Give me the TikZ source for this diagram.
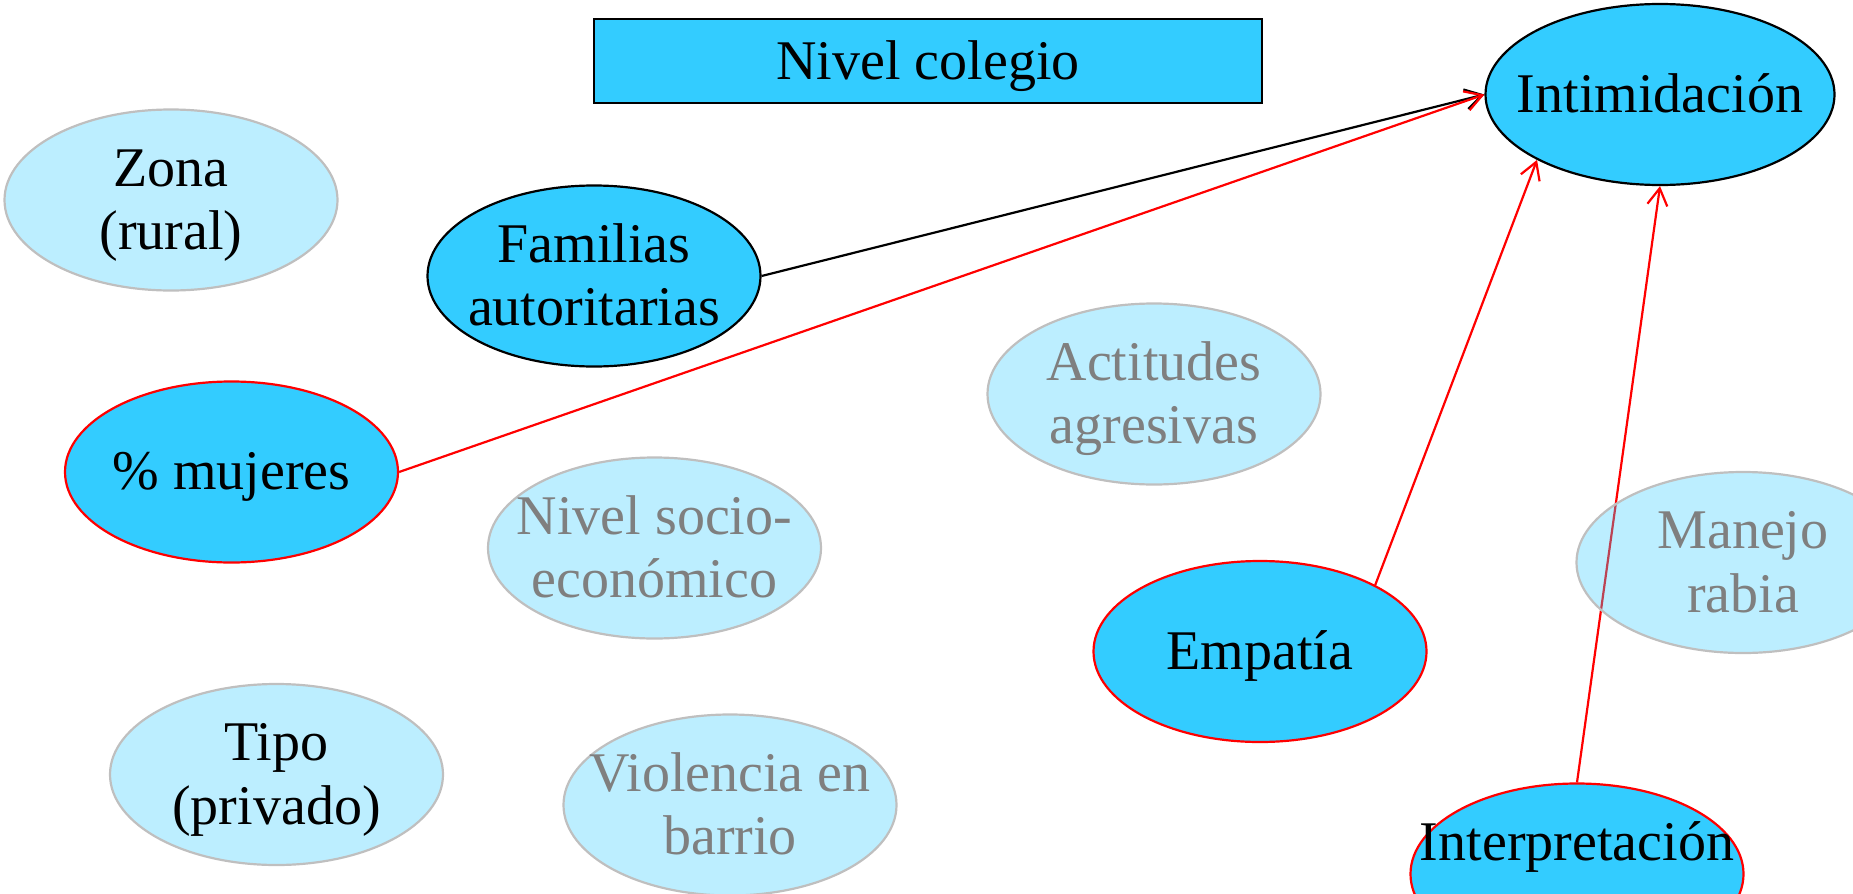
\documentclass[tikz,border=0pt]{standalone}
\usepackage{fontspec}
\setmainfont{Liberation Serif}
\usetikzlibrary{shapes.geometric,arrows.meta,backgrounds}
\definecolor{skyb}{HTML}{33CCFF}
\definecolor{grayline}{HTML}{BFBFBF}
\definecolor{graytext}{HTML}{7F7F7F}
\newcommand\lblfont{\fontsize{28}{31.75}\selectfont}
\newcommand\twol[1]{\begin{tabular}[t]{@{}c@{}}#1\end{tabular}}
\tikzset{
  ellbase/.style={ellipse, minimum width=166.5pt, minimum height=90.5pt, inner sep=0pt, line width=1.1pt},
  strongbk/.style={ellbase, fill=skyb, draw=black},
  strongrd/.style={ellbase, fill=skyb, draw=red},
  lightell/.style={ellbase, fill=skyb, fill opacity=0.33, draw=grayline},
  lbl/.style={anchor=base, inner sep=0pt, font=\lblfont, text=black},
  graylbl/.style={lbl, text=graytext},
  conn/.style={line width=1.1pt, -{Straight Barb[length=8.5pt,width=10pt]}},
}
\begin{document}
\begin{tikzpicture}[x=0.5pt,y=-0.5pt]
\useasboundingbox (0,0) rectangle (1853,894);
% title box
\node[draw=black, fill=skyb, line width=1.1pt, minimum width=334pt, minimum height=42pt, inner sep=0pt] (nivel) at (928,61) {};
\node[lbl] (nivel-t) at (928,79) {Nivel colegio};
% strong nodes
\node[strongbk, minimum width=174.5pt] (intim) at (1660,94.5) {};
\node[lbl] (intim-t) at (1660,112) {Intimidación};
\node[strongbk] (fam) at (594,276) {};
\node[lbl] (fam-t) at (594,262) {\twol{Familias\\autoritarias}};
\node[strongrd] (muj) at (231.5,472) {};
\node[lbl] (muj-t) at (231.5,489.5) {\% mujeres};
\node[strongrd] (emp) at (1260,651.5) {};
\node[lbl] (emp-t) at (1260,669) {Empatía};
\node[strongrd] (interp) at (1577,874) {};
\node[lbl] (interp-t) at (1577,860) {Interpretación};
% light nodes
\node[lightell] (zona) at (171,200) {};
\node[lbl] (zona-t) at (171,186) {\twol{Zona\\(rural)}};
\node[lightell] (tipo) at (276.5,774.5) {};
\node[lbl] (tipo-t) at (276.5,760.5) {\twol{Tipo\\(privado)}};
\node[lightell] (act) at (1154,394) {};
\node[graylbl] (act-t) at (1154,380) {\twol{Actitudes\\agresivas}};
\node[lightell] (socio) at (654.5,548) {};
\node[graylbl] (socio-t) at (654.5,534) {\twol{Nivel socio-\\económico}};
\node[lightell] (viol) at (730,805) {};
\node[graylbl] (viol-t) at (730,791) {\twol{Violencia en\\barrio}};
\node[lightell] (rabia) at (1743,562.5) {};
\node[graylbl] (rabia-t) at (1743,548.5) {\twol{Manejo\\rabia}};
% connectors
\begin{pgfonlayer}{background}
\draw[conn, black] (fam.east) -- (intim.west);
\draw[conn, red] (muj.east) -- (intim.west);
\draw[conn, red] (emp.30) -- (intim.208);
\draw[conn, red] (interp.north) -- (intim.south);
\end{pgfonlayer}
\end{tikzpicture}
\end{document}
